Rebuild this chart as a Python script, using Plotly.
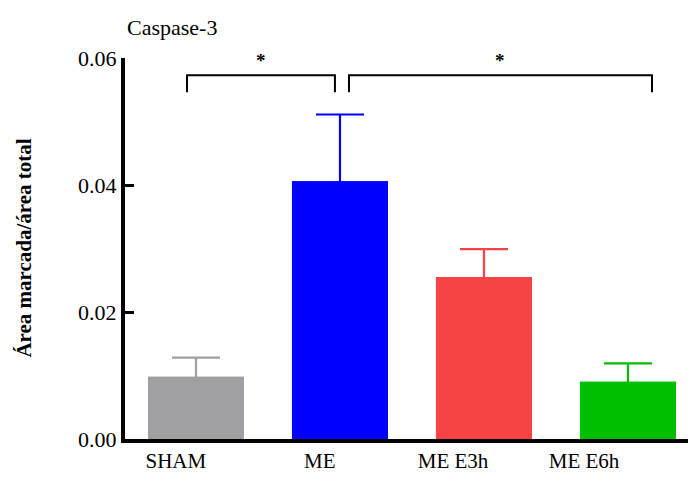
import plotly.graph_objects as go

categories = ["SHAM", "ME", "ME E3h", "ME E6h"]
means = [0.0098, 0.0406, 0.0255, 0.0090]
sem = [0.0030, 0.0105, 0.0044, 0.0029]
colors = ["#A09FA4", "#0000FF", "#F74343", "#00BF00"]
label_pos = [-0.14, 0.86, 1.785, 2.695]
y_ticks = [0.00, 0.02, 0.04, 0.06]
title_text = "Caspase-3"
y_title = "Área marcada/área total"
# significance brackets: (x_start, x_end, label)
brackets = [(-0.0625, 0.965, "*"), (1.0625, 3.167, "*")]
bracket_top = 0.0573
bracket_bottom = 0.0546
star_y_paper = 0.993

serif = "Liberation Serif, Times New Roman, serif"

fig = go.Figure()
# error bars first (symmetric; lower half hidden by the bars drawn on top)
for i, (c, m, s, col) in enumerate(zip(categories, means, sem, colors)):
    fig.add_trace(go.Bar(
        x=[i], y=[m], name=c + " SEM", width=0.667,
        marker=dict(color=col, line=dict(width=0)),
        error_y=dict(type="data", array=[s], color=col, thickness=2.2, width=24),
        showlegend=False, hoverinfo="skip",
    ))
for i, (c, m, col) in enumerate(zip(categories, means, colors)):
    fig.add_trace(go.Bar(
        x=[i], y=[m], name=c, width=0.667,
        marker=dict(color=col, line=dict(width=0)),
        showlegend=False,
    ))

for x0, x1, lab in brackets:
    fig.add_shape(type="path",
                  path=f"M {x0} {bracket_bottom} L {x0} {bracket_top} L {x1} {bracket_top} L {x1} {bracket_bottom}",
                  xref="x", yref="y", line=dict(color="black", width=2))
    fig.add_annotation(x=(x0 + x1) / 2, y=star_y_paper, xref="x", yref="paper",
                       text=lab, showarrow=False, yanchor="middle",
                       font=dict(family=serif, size=19, color="black", weight="bold"))

fig.add_annotation(x=-0.181, y=0.5, xref="paper", yref="paper", text=y_title,
                   textangle=-90, showarrow=False, xanchor="center", yanchor="middle",
                   font=dict(family=serif, size=21, color="black", weight="bold"))

fig.update_layout(
    width=690, height=486,
    margin=dict(l=125, r=2, t=58, b=47),
    paper_bgcolor="white", plot_bgcolor="white",
    barmode="overlay",
    font=dict(family=serif, color="black"),
    title=dict(text=title_text, x=127 / 690, xanchor="left", xref="container",
               y=1 - 27 / 486, yanchor="middle", yref="container",
               font=dict(family=serif, size=22, color="black")),
    xaxis=dict(range=[-0.493, 3.417], tickvals=label_pos, ticktext=categories,
               showline=True, linecolor="black", linewidth=4, ticks="",
               showgrid=False, zeroline=False,
               tickfont=dict(family=serif, size=21, color="black")),
    yaxis=dict(range=[0, 0.06], tickvals=y_ticks, tickformat=".2f",
               showline=True, linecolor="black", linewidth=4,
               ticks="inside", ticklen=9, tickwidth=3, tickcolor="black",
               showgrid=False, zeroline=False,
               tickfont=dict(family=serif, size=22, color="black")),
)

fig.write_html("out.html")
